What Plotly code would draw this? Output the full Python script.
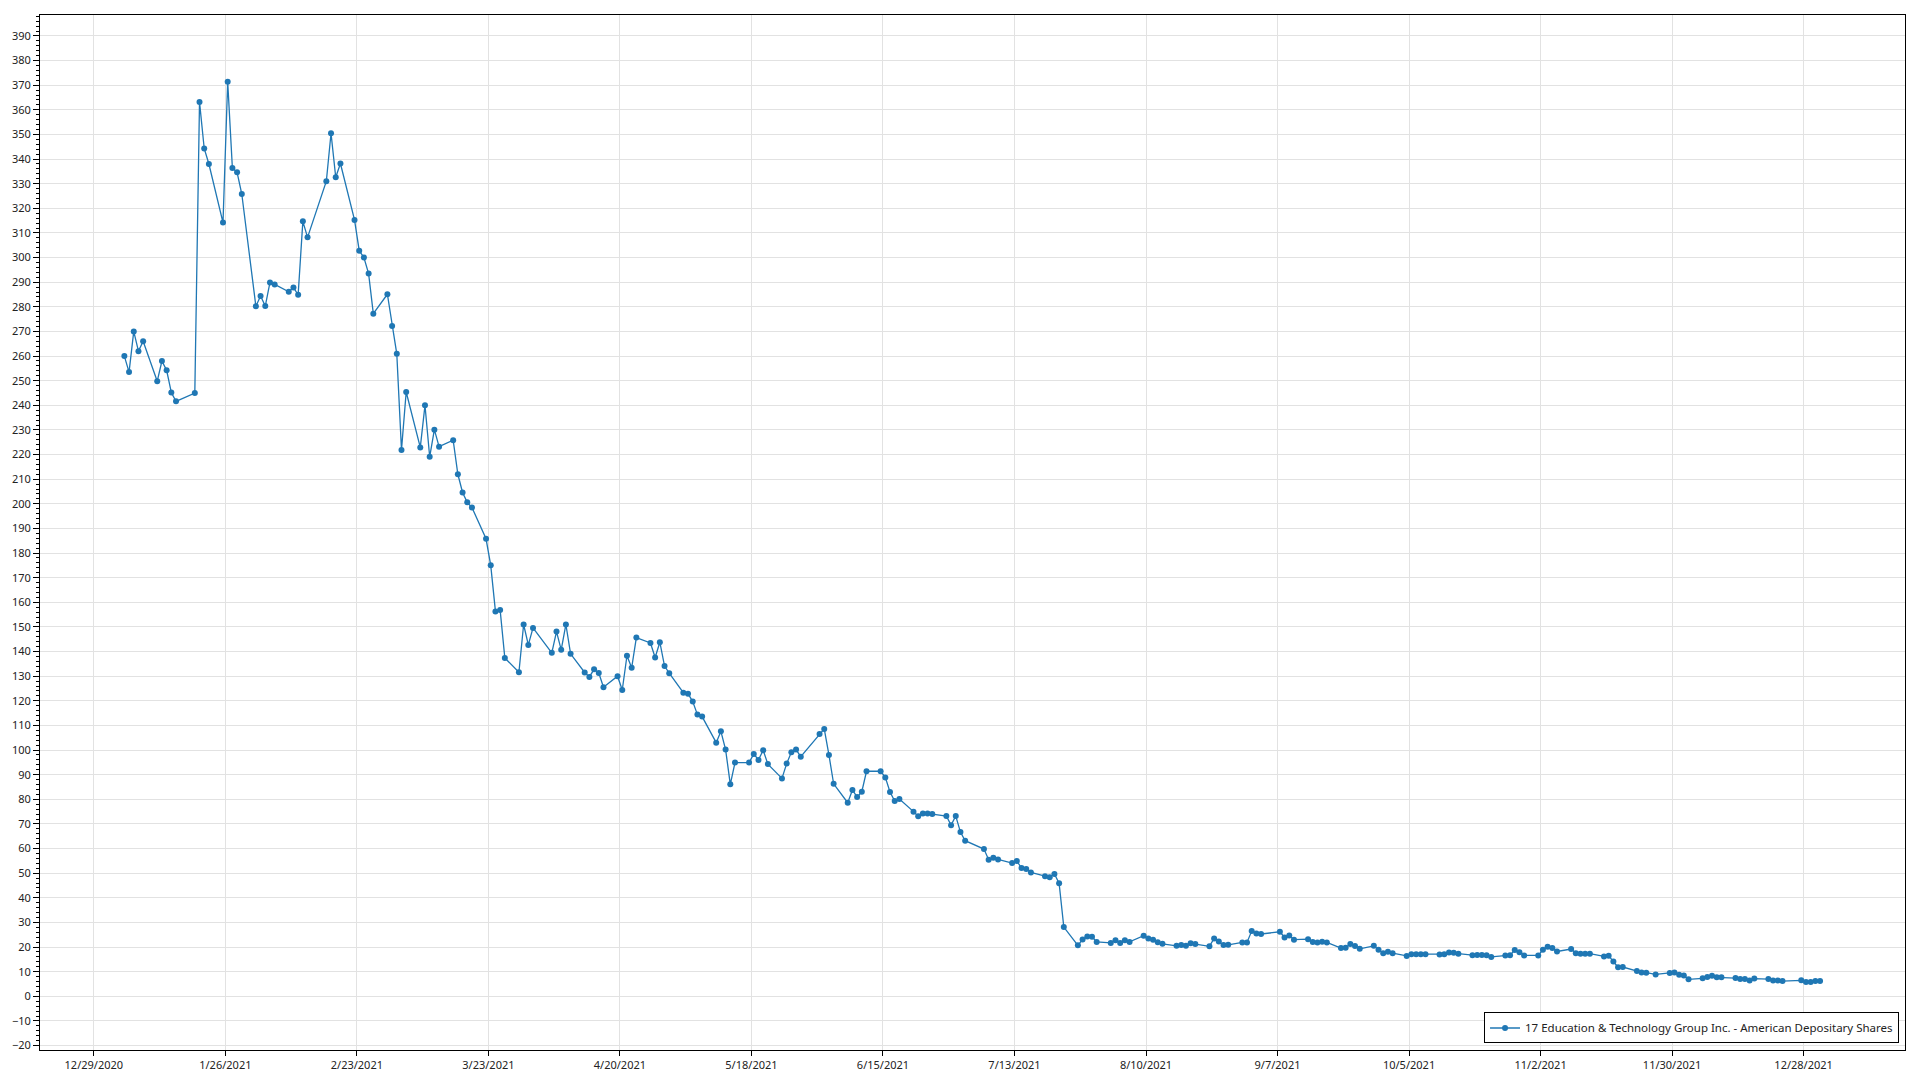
import plotly.graph_objects as go

# Trading days of 2021 by month (day-of-month) and closing values
jan_days = [4, 5, 6, 7, 8, 11, 12, 13, 14, 15, 19, 20, 21, 22, 25, 26, 27, 28, 29]
jan_vals = [260, 253.5, 270, 262, 266, 249.8, 258, 254.2, 245.2, 241.6, 245, 363.2, 344.3, 338, 314.2, 371.4, 336.4, 334.6, 325.8]
feb_days = [1, 2, 3, 4, 5, 8, 9, 10, 11, 12, 16, 17, 18, 19, 22, 23, 24, 25, 26]
feb_vals = [280.2, 284.4, 280.3, 289.9, 289.1, 286.1, 287.8, 284.9, 314.7, 308.2, 331, 350.5, 332.6, 338.2, 315.3, 302.8, 300, 293.5, 277.2]
mar_days = [1, 2, 3, 4, 5, 8, 9, 10, 11, 12, 15, 16, 17, 18, 19, 22, 23, 24, 25, 26, 29, 30, 31]
mar_vals = [285.1, 272.2, 260.9, 221.9, 245.4, 222.9, 240, 219.1, 230.1, 223.2, 225.8, 212, 204.6, 200.6, 198.5, 185.8, 175, 156.3, 156.9, 137.4, 131.6, 151, 142.7]
apr_days = [1, 5, 6, 7, 8, 9, 12, 13, 14, 15, 16, 19, 20, 21, 22, 23, 26, 27, 28, 29, 30]
apr_vals = [149.6, 139.5, 148.1, 140.7, 151, 139.1, 131.5, 129.7, 132.8, 131.3, 125.5, 130, 124.4, 138.3, 133.4, 145.7, 143.5, 137.6, 143.8, 134.1, 131.2]
may_days = [3, 4, 5, 6, 7, 10, 11, 12, 13, 14, 17, 18, 19, 20, 21, 24, 25, 26, 27, 28]
may_vals = [123.3, 122.9, 119.7, 114.4, 113.6, 103, 107.6, 100.2, 86.1, 94.9, 94.9, 98.4, 96, 99.9, 94.3, 88.5, 94.5, 99.1, 100.2, 97.3]
jun_days = [1, 2, 3, 4, 7, 8, 9, 10, 11, 14, 15, 16, 17, 18, 21, 22, 23, 24, 25, 28, 29, 30]
jun_vals = [106.5, 108.6, 98, 86.3, 78.6, 83.8, 80.9, 83.1, 91.4, 91.4, 88.9, 83, 79.3, 80.1, 75, 73.1, 74.2, 74.2, 74, 73.2, 69.5, 73.2]
jul_days = [1, 2, 6, 7, 8, 9, 12, 13, 14, 15, 16, 19, 20, 21, 22, 23, 26, 27, 28, 29, 30]
jul_vals = [66.7, 63.2, 59.8, 55.5, 56.3, 55.6, 54.1, 54.9, 52.1, 51.7, 50.3, 48.8, 48.4, 49.7, 45.9, 28.1, 20.7, 23.1, 24.3, 24.2, 22.1]
aug_days = [2, 3, 4, 5, 6, 9, 10, 11, 12, 13, 16, 17, 18, 19, 20, 23, 24, 25, 26, 27, 30, 31]
aug_vals = [21.7, 22.8, 21.7, 22.8, 22.1, 24.6, 23.5, 23, 22, 21.3, 20.5, 20.8, 20.5, 21.5, 21.2, 20.3, 23.5, 22.3, 20.8, 20.9, 21.9, 21.9]
sep_days = [1, 2, 3, 7, 8, 9, 10, 13, 14, 15, 16, 17, 20, 21, 22, 23, 24, 27, 28, 29, 30]
sep_vals = [26.5, 25.5, 25.3, 26.2, 23.9, 24.7, 23, 23.2, 22.1, 21.9, 22.2, 21.9, 19.6, 19.7, 21.2, 20.4, 19.3, 20.5, 18.9, 17.5, 18.1]
oct_days = [1, 4, 5, 6, 7, 8, 11, 12, 13, 14, 15, 18, 19, 20, 21, 22, 25, 26, 27, 28, 29]
oct_vals = [17.5, 16.4, 17.1, 17.1, 17.1, 17.1, 17, 17.1, 17.8, 17.7, 17.3, 16.7, 16.8, 16.8, 16.7, 16, 16.6, 16.7, 18.8, 17.9, 16.6]
nov_days = [1, 2, 3, 4, 5, 8, 9, 10, 11, 12, 15, 16, 17, 18, 19, 22, 23, 24, 26, 29, 30]
nov_vals = [16.6, 18.9, 20.1, 19.6, 18.2, 19.2, 17.5, 17.3, 17.3, 17.3, 16.2, 16.5, 14.1, 11.8, 11.9, 10.3, 9.7, 9.6, 8.9, 9.5, 9.7]
dec_days = [1, 2, 3, 6, 7, 8, 9, 10, 13, 14, 15, 16, 17, 20, 21, 22, 23, 27, 28, 29, 30, 31]
dec_vals = [8.8, 8.5, 6.9, 7.3, 7.8, 8.4, 7.7, 7.7, 7.4, 7, 7, 6.4, 7.2, 7, 6.4, 6.4, 6.2, 6.5, 5.8, 5.8, 6.2, 6.2]

series_name = "17 Education & Technology Group Inc. - American Depositary Shares"

x_tick_dates = ["2020-12-29", "2021-01-26", "2021-02-23", "2021-03-23", "2021-04-20", "2021-05-18",
                "2021-06-15", "2021-07-13", "2021-08-10", "2021-09-07", "2021-10-05", "2021-11-02",
                "2021-11-30", "2021-12-28"]
x_tick_labels = ["12/29/2020", "1/26/2021", "2/23/2021", "3/23/2021", "4/20/2021", "5/18/2021",
                 "6/15/2021", "7/13/2021", "8/10/2021", "9/7/2021", "10/5/2021", "11/2/2021",
                 "11/30/2021", "12/28/2021"]
y_tick_vals = list(range(-20, 391, 10))

months = [(1, jan_days, jan_vals), (2, feb_days, feb_vals), (3, mar_days, mar_vals),
          (4, apr_days, apr_vals), (5, may_days, may_vals), (6, jun_days, jun_vals),
          (7, jul_days, jul_vals), (8, aug_days, aug_vals), (9, sep_days, sep_vals),
          (10, oct_days, oct_vals), (11, nov_days, nov_vals), (12, dec_days, dec_vals)]
dates, values = [], []
for m, ds, vs in months:
    for d, v in zip(ds, vs):
        dates.append(f"2021-{m:02d}-{d:02d} 12:00")
        values.append(v)

blue = "#1f77b4"
font = "Noto Sans, Open Sans, sans-serif"

fig = go.Figure()
fig.add_trace(go.Scatter(
    x=dates, y=values, mode="lines+markers", name=series_name,
    line=dict(color=blue, width=1.3),
    marker=dict(color=blue, size=6),
))

# page body has an 8px default margin, so margins are reduced accordingly
fig.update_layout(
    width=1920, height=1080,
    margin=dict(l=32, r=23, t=7, b=38),
    paper_bgcolor="white", plot_bgcolor="white",
    font=dict(family=font, size=11, color="#222"),
    showlegend=True,
    legend=dict(x=0.9968, y=0.0063, xanchor="right", yanchor="bottom",
                bgcolor="white", bordercolor="black", borderwidth=1,
                itemwidth=30,
                font=dict(family=font, size=11.5, color="#222")),
)
fig.update_xaxes(
    type="date", range=["2020-12-17 13:00", "2022-01-18 14:00"],
    tickmode="array", tickvals=x_tick_dates, ticktext=x_tick_labels,
    showgrid=True, gridcolor="#e2e2e2", gridwidth=1,
    showline=True, linecolor="black", linewidth=1, mirror=True,
    ticks="outside", ticklen=5, tickcolor="black", zeroline=False,
    automargin=False,
)
fig.update_yaxes(
    range=[-21.8, 398.5], tickmode="array", tickvals=y_tick_vals,
    showgrid=True, gridcolor="#e2e2e2", gridwidth=1,
    showline=True, linecolor="black", linewidth=1, mirror=True,
    ticks="outside", ticklen=6, tickcolor="black", zeroline=False,
    automargin=False,
    minor=dict(dtick=2, tick0=0, ticks="outside", ticklen=3, tickcolor="black", showgrid=False),
)

fig.write_html("out.html")
